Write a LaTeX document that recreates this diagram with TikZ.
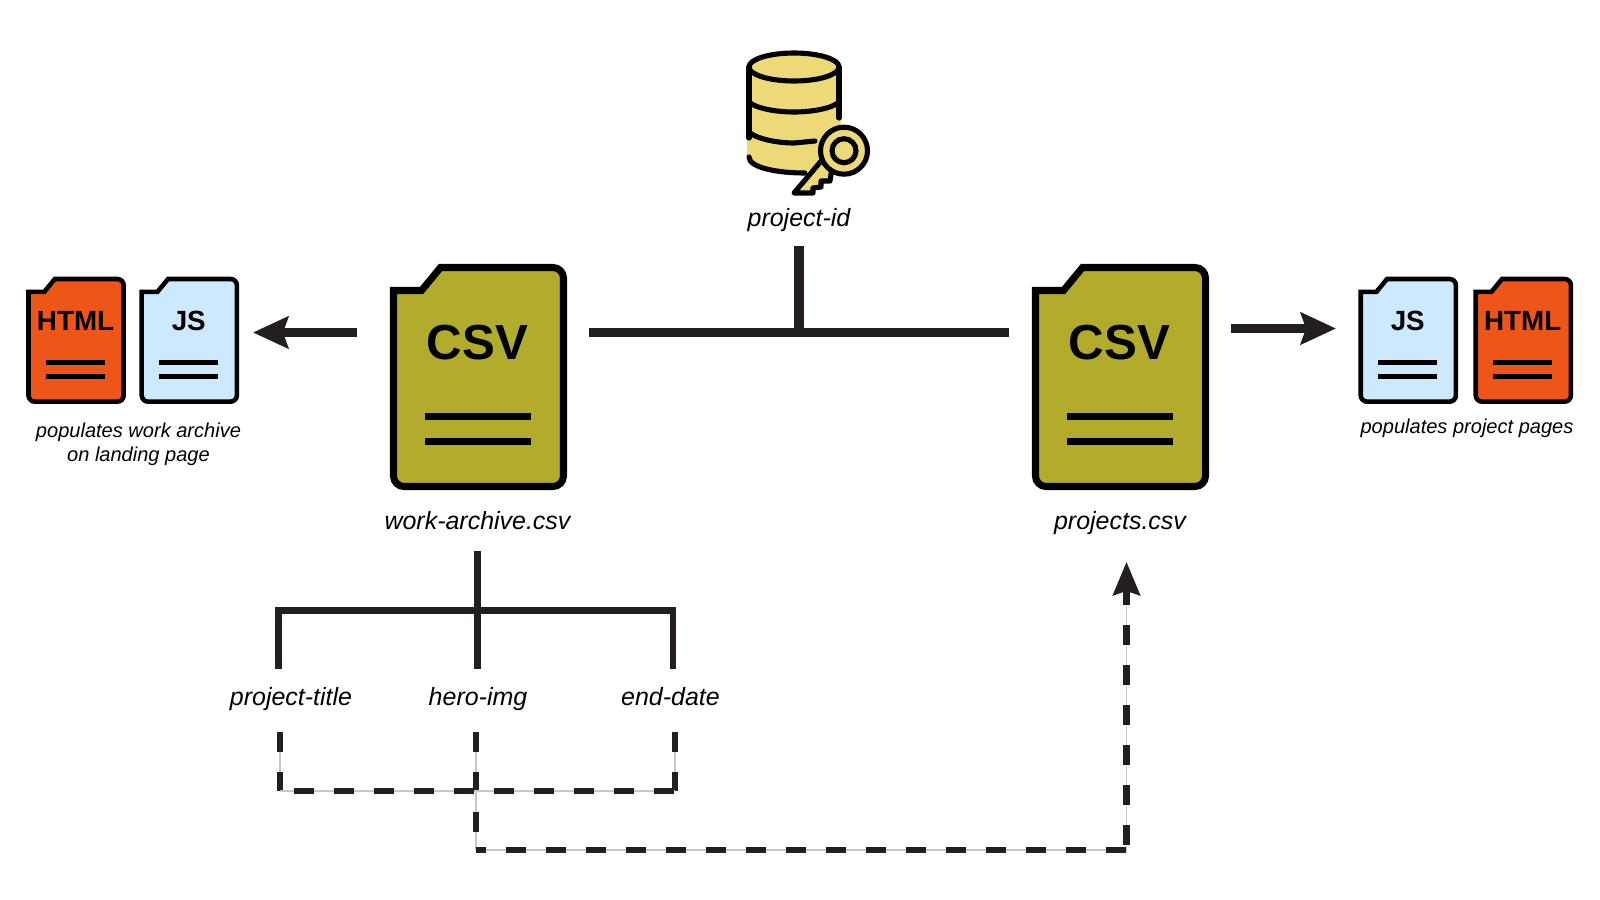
\documentclass[tikz,border=0pt]{standalone}
\usepackage{fontspec}
\setmainfont{Liberation Sans}
\usetikzlibrary{arrows.meta}
\definecolor{csvfill}{HTML}{B3AB2B}
\definecolor{htmlfill}{HTML}{EE5619}
\definecolor{jsfill}{HTML}{CCE9FF}
\definecolor{dbfill}{HTML}{EDD977}
\definecolor{linkcol}{HTML}{231F20}
\tikzstyle{csvicon} = [scale=1, line width=2pt, iconround/.style={rounded corners=3pt},
iconfont/.style={font=\fontsize{14}{14}\selectfont\bfseries}]
\tikzstyle{smallicon} = [scale=0.56, line width=1.3pt, iconround/.style={rounded corners=1.8pt},
iconfont/.style={font=\fontsize{7.9}{7.9}\selectfont\bfseries}]
\tikzstyle{biglabel} = [font=\fontsize{7.1}{8.4}\selectfont\itshape, inner sep=0pt, anchor=base]
\tikzstyle{smalllabel} = [font=\fontsize{5.7}{7}\selectfont\itshape, inner sep=0pt, align=center]
\tikzstyle{heavy} = [draw=linkcol, line width=2.6pt]
\tikzstyle{medium} = [draw=linkcol, line width=1.9pt]
\tikzstyle{flowarrow} = [heavy, -{Stealth[length=10pt, width=9pt, inset=1.5pt]}]
\tikzstyle{dashlink} = [draw=linkcol, line width=1.9pt, dash pattern=on 5.69pt off 5.69pt,
preaction={draw=black!22, line width=0.35pt, solid}]
\newcommand{\docicon}[5]{ %
  % File icon: name, top left corner, size style, fill, text.
  \begin{scope}[shift={#2}, #3]
    \draw[fill=#4, line join=miter] (0,23) [sharp corners] -- (28,23) -- (47,0) [iconround]
      -- (170,0) -- (170,219) -- (0,219) [sharp corners] -- cycle;
    \node[iconfont, inner sep=0pt] (#1) at (84,75.5) {#5};
    \draw (31.5,149) -- (137,149);
    \draw (31.5,174) -- (137,174);
  \end{scope}
}
\begin{document}
\begin{tikzpicture}[x=0.01cm, y=-0.01cm]
  \useasboundingbox (0,0) rectangle (1600,900);
  % database with key
  \fill[dbfill] (794,67) circle[x radius=47, y radius=16];
  \fill[dbfill] (747,67) -- (841,67) -- (841,150) -- (822,160) -- (805,173)
    .. controls (775,173) and (747,170) .. (747,157) -- cycle;
  \begin{scope}[line width=1.45pt, line cap=round]
    \draw (794,67) circle[x radius=45, y radius=14];
    \draw (749,67) -- (749,138);
    \draw (839,67) -- (839,118);
    \draw (749,102) .. controls (755,108) and (775,112) .. (794,112) .. controls (813,112) and (833,108) .. (839,102);
    \draw (749,132) .. controls (755,138) and (775,143) .. (794,143) -- (815,141);
    \draw (749,157) .. controls (749,167) and (775,173) .. (805,173);
    \draw[fill=dbfill, line join=round] (822,160) -- (794,193) -- (813,193) -- (813,188) -- (821,187) -- (821,181)
      -- (830,181) -- (832,168) -- cycle;
    \draw[fill=dbfill] (844,150.7) circle[radius=23.5];
    \draw[fill=dbfill] (844,150.7) circle[radius=12];
  \end{scope}
  \node[biglabel](idlabel) at (799,226.3) {project-id};
  % file icons
  \docicon{htmlleft}{(28.5,279)}{smallicon}{htmlfill}{HTML}
  \docicon{jsleft}{(141.7,279)}{smallicon}{jsfill}{JS}
  \docicon{archive}{(393.5,267.5)}{csvicon}{csvfill}{CSV}
  \docicon{projects}{(1035.5,267.5)}{csvicon}{csvfill}{CSV}
  \docicon{jsright}{(1360.7,279)}{smallicon}{jsfill}{JS}
  \docicon{htmlright}{(1475.7,279)}{smallicon}{htmlfill}{HTML}
  \node[biglabel](archivelabel) at (477.5,529) {work-archive.csv};
  \node[biglabel](projectslabel) at (1120,529) {projects.csv};
  \node[smalllabel](leftnote) at (138.5,444.5) {populates work archive\\on landing page};
  \node[smalllabel](rightnote) at (1467,428.5) {populates project pages};
  \node[biglabel](titlelabel) at (291,705.3) {project-title};
  \node[biglabel](herolabel) at (478,705.3) {hero-img};
  \node[biglabel](datelabel) at (670.5,705.3) {end-date};
  % link ends
  \coordinate (barleft) at (589,332.5);
  \coordinate (barright) at (1009,332.5);
  \coordinate (barjoin) at (799,332.5);
  \coordinate (idfoot) at (799,246);
  \coordinate (leftstart) at (357,332.5);
  \coordinate (lefttip) at (253,332.5);
  \coordinate (rightstart) at (1231,328.5);
  \coordinate (righttip) at (1336,328.5);
  \coordinate (stemtop) at (477.3,551);
  \coordinate (stemfoot) at (477.3,669);
  \coordinate (treejoin) at (477.3,610.7);
  \coordinate (treeleft) at (278.7,669);
  \coordinate (treeright) at (673,669);
  \coordinate (dashleft) at (280,732);
  \coordinate (dashhero) at (476,732);
  \coordinate (dashright) at (675,732);
  \coordinate (cornerleft) at (280,791);
  \coordinate (cornerright) at (675,791);
  \coordinate (cornerlow) at (476,850);
  \coordinate (cornerend) at (1126.5,850);
  \coordinate (dashtip) at (1126.5,562);
  % links
  \draw[heavy] (barleft) -- (barright);
  \draw[heavy] (idfoot) -- (barjoin);
  \draw[flowarrow] (leftstart) -- (lefttip);
  \draw[flowarrow] (rightstart) -- (righttip);
  \draw[medium] (stemtop) -- (stemfoot);
  \draw[medium] (treeleft) |- (treejoin) -| (treeright);
  \draw[dashlink] (dashleft) -- (cornerleft);
  \draw[dashlink] (dashhero) -- (cornerlow);
  \draw[dashlink] (dashright) -- (cornerright);
  \draw[dashlink, dash phase=7.4pt] (cornerleft) -- (cornerright);
  \draw[dashlink, dash phase=2.85pt] (cornerlow) -- (cornerend);
  \draw[dashlink, dash phase=9.96pt, -{Stealth[length=9.4pt, width=7.6pt, inset=1.2pt]}] (cornerend) -- (dashtip);
\end{tikzpicture}
\end{document}
